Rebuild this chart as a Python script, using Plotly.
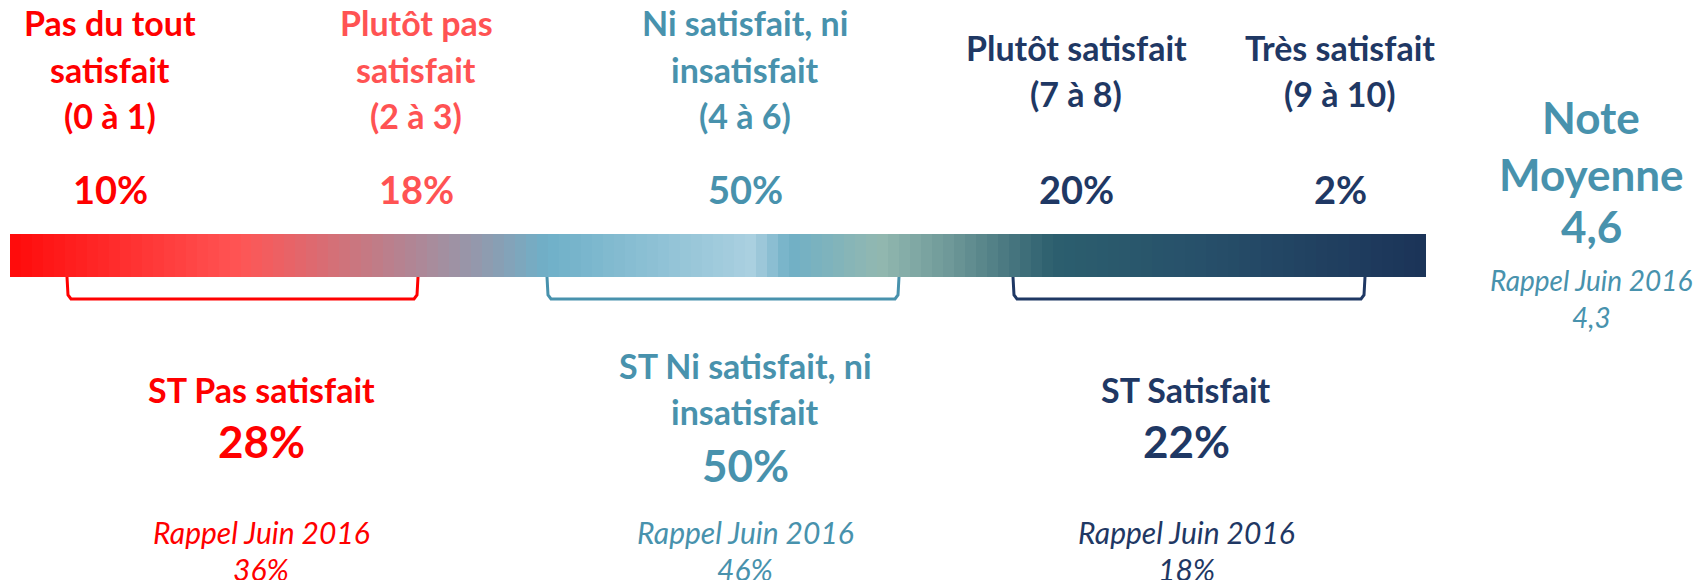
import numpy as np
import plotly.graph_objects as go

# ---------------- data ----------------
categories = [["Pas du tout", "satisfait", "(0 à 1)"],
              ["Plutôt pas", "satisfait", "(2 à 3)"],
              ["Ni satisfait, ni", "insatisfait", "(4 à 6)"],
              ["Plutôt satisfait", "(7 à 8)"],
              ["Très satisfait", "(9 à 10)"]]
category_pct = [10, 18, 50, 20, 2]
category_colors = ["#FF0000", "#FF5353", "#4892AD", "#1F3864", "#1F3864"]

groups = [["ST Pas satisfait"], ["ST Ni satisfait, ni", "insatisfait"], ["ST Satisfait"]]
group_pct = [28, 50, 22]
group_recall_pct = [36, 46, 18]
group_colors = ["#FF0000", "#4892AD", "#1F3864"]
recall_label = "Rappel Juin 2016"

mean_title = ["Note", "Moyenne"]
mean_score = 4.6
mean_recall = 4.3
mean_color = "#4892AD"

# gradient bar colour stops (position along the bar, colour)
grad_pos = [10, 240, 480, 547, 752, 762, 776, 790, 880, 950, 1053, 1200, 1426]
grad_col = ["#FF0A0A", "#FF5555", "#9299AD", "#6FB0C8", "#AAD0E0", "#9CC7D9",
            "#86BCD0", "#70B0C6", "#92B8B0", "#6E9898", "#2C5F6E", "#27506A", "#1B3358"]

# ---------------- layout helpers ----------------
FONT = "Lato"
col_x = [110, 416, 745, 1076, 1340]
bar_x0, bar_x1 = grad_pos[0], grad_pos[-1]
bar_y0, bar_y1 = 234, 277
bracket_spans = [(67, 418), (547, 899), (1013, 1365)]
group_x = [261, 745, 1186]

fig = go.Figure()

# gradient bar
edges = np.linspace(bar_x0, bar_x1, 130)
centers = (edges[:-1] + edges[1:]) / 2
span = bar_x1 - bar_x0
cscale = [[(p - bar_x0) / span, c] for p, c in zip(grad_pos, grad_col)]
fig.add_trace(go.Heatmap(x=edges, y=[bar_y0, bar_y1], z=[centers], colorscale=cscale,
                         zmin=bar_x0, zmax=bar_x1, showscale=False, hoverinfo="skip",
                         zsmooth=False))

# brackets
for (x0, x1), c in zip(bracket_spans, group_colors):
    xs = [x0, x0 + 1, x0 + 4, x1 - 4, x1 - 1, x1]
    ys = [bar_y1, bar_y1 + 18, bar_y1 + 22, bar_y1 + 22, bar_y1 + 18, bar_y1]
    fig.add_trace(go.Scatter(x=xs, y=ys, mode="lines", line=dict(color=c, width=3),
                             hoverinfo="skip"))

ann = []


def txt(x, y, s, size, color, bold=True, italic=False):
    if bold:
        s = f"<b>{s}</b>"
    if italic:
        s = f"<i>{s}</i>"
    ann.append(dict(x=x, y=y, xref="x", yref="y", text=s, showarrow=False,
                    xanchor="center", yanchor="middle",
                    font=dict(family=FONT, size=size, color=color)))


# category headers
for lines, pct, c, x in zip(categories, category_pct, category_colors, col_x):
    ys = [22, 69, 115] if len(lines) == 3 else [47, 93]
    for line, y in zip(lines, ys):
        txt(x, y, line, 34, c)
    txt(x, 189, f"{pct}%", 38, c)

# group summaries
for lines, pct, rec, c, x in zip(groups, group_pct, group_recall_pct, group_colors, group_x):
    if len(lines) == 2:
        txt(x, 365, lines[0], 34, c)
        txt(x, 411, lines[1], 34, c)
        txt(x, 465, f"{pct}%", 44, c)
    else:
        txt(x, 389, lines[0], 34, c)
        txt(x, 441, f"{pct}%", 44, c)
    txt(x, 532, recall_label, 30, c, bold=False, italic=True)
    txt(x, 569, f"{rec}%", 30, c, bold=False, italic=True)

# mean score
mx = 1591
txt(mx, 117, mean_title[0], 44, mean_color)
txt(mx, 174, mean_title[1], 44, mean_color)
txt(mx, 226, f"{mean_score:.1f}".replace(".", ","), 44, mean_color)
txt(mx, 280, recall_label, 28, mean_color, bold=False, italic=True)
txt(mx, 317, f"{mean_recall:.1f}".replace(".", ","), 28, mean_color, bold=False, italic=True)

fig.update_layout(
    width=1704, height=580,
    margin=dict(l=0, r=0, t=0, b=0),
    paper_bgcolor="white", plot_bgcolor="white",
    showlegend=False,
    xaxis=dict(range=[0, 1704], visible=False, fixedrange=True),
    yaxis=dict(range=[580, 0], visible=False, fixedrange=True),
    annotations=ann,
)

fig.write_html("out.html", config={"displayModeBar": False},
               post_script="document.body.style.margin='0px';document.body.style.overflow='hidden';")
